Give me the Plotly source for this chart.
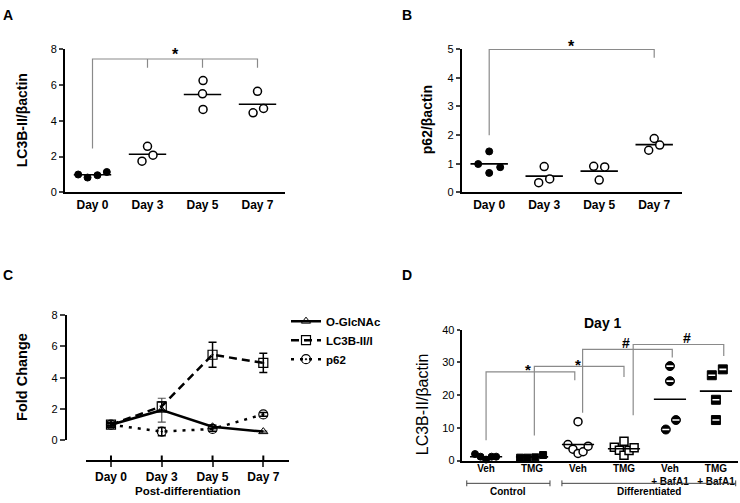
import plotly.graph_objects as go
import numpy as np

FONT = "Liberation Sans, Arial, Helvetica, sans-serif"
W, H = 740, 503

# ---------------- data ----------------
days = ["Day 0", "Day 3", "Day 5", "Day 7"]

# Panel A : LC3B-II/beta-actin per day (individual replicates)
a_day0 = [1.00, 0.83, 0.96, 1.14]
a_day3 = [1.74, 2.57, 2.08]
a_day5 = [6.24, 5.50, 4.63]
a_day7 = [5.64, 4.44, 4.68]
a_jitter = [[-0.26, -0.09, 0.09, 0.26], [-0.10, 0.0, 0.10], [0.01, 0.0, 0.01], [0.0, -0.08, 0.11]]

# Panel B : p62/beta-actin per day
b_day0 = [0.99, 1.43, 0.88, 0.68]
b_day3 = [0.34, 0.90, 0.47]
b_day5 = [0.91, 0.89, 0.43]
b_day7 = [1.47, 1.88, 1.65]
b_jitter = [[-0.20, 0.0, 0.20, 0.0], [-0.10, 0.0, 0.10], [-0.10, 0.10, 0.0], [-0.10, 0.0, 0.10]]

# Panel C : fold change (mean and error)
c_oglc = [1.00, 1.93, 0.87, 0.56]
c_oglc_err = [0.05, 0.76, 0.12, 0.04]
c_lc3 = [1.00, 2.18, 5.47, 4.95]
c_lc3_err = [0.06, 0.27, 0.80, 0.62]
c_p62 = [1.00, 0.56, 0.73, 1.66]
c_p62_err = [0.16, 0.26, 0.15, 0.12]

# Panel D : Day 1 LC3B-II/beta-actin
d_labels = ["Veh", "TMG", "Veh", "TMG", "Veh<br>+ BafA1", "TMG<br>+ BafA1"]
d_groups = ["Control", "Differentiated"]
d_ctrl_veh = [2.0, 1.2, 0.3, 1.2, 1.2]
d_ctrl_tmg = [0.9, 0.9, 1.0, 1.7]
d_diff_veh = [4.9, 3.5, 2.2, 2.7, 4.4, 11.9]
d_diff_tmg = [4.1, 3.2, 5.9, 1.6, 3.1, 3.9]
d_veh_baf = [28.9, 24.3, 9.5, 12.4]
d_tmg_baf = [26.1, 27.9, 18.6, 12.4]
d_jitter = [[-0.24, -0.12, 0.0, 0.12, 0.22], [-0.26, -0.10, 0.07, 0.24],
            [-0.22, -0.11, 0.0, 0.11, 0.22, 0.0], [-0.21, -0.10, 0.0, 0.0, 0.11, 0.22],
            [0.0, 0.0, -0.09, 0.13], [-0.09, 0.15, 0.0, 0.0]]


def px(p):
    return p / W


def py(p):
    return 1 - p / H


BLACK = "black"
GRAY = "#8a8a8a"
fig = go.Figure()


def add_dots(xa, ya, vals, jit, idx, symbol, fill, size=8, lw=1.5):
    fig.add_trace(go.Scatter(
        x=[idx + j for j in jit], y=vals, mode="markers", xaxis=xa, yaxis=ya,
        marker=dict(symbol=symbol, size=size, color=fill, line=dict(color=BLACK, width=lw)),
        showlegend=False, hoverinfo="skip", cliponaxis=False))


def add_mean(xa, ya, vals, idx, half=0.34, lw=1.6):
    m = float(np.mean(vals))
    fig.add_trace(go.Scatter(
        x=[idx - half, idx + half], y=[m, m], mode="lines", xaxis=xa, yaxis=ya,
        line=dict(color=BLACK, width=lw), showlegend=False, hoverinfo="skip"))


# ---------- Panel A ----------
for i, vals in enumerate([a_day0, a_day3, a_day5, a_day7]):
    add_mean("x", "y", vals, i)
    if i == 0:
        add_dots("x", "y", vals, a_jitter[i], i, "circle", BLACK, size=7, lw=1)
    else:
        add_dots("x", "y", vals, a_jitter[i], i, "circle", "white", size=8, lw=1.5)

# ---------- Panel B ----------
for i, vals in enumerate([b_day0, b_day3, b_day5, b_day7]):
    add_mean("x2", "y2", vals, i)
    if i == 0:
        add_dots("x2", "y2", vals, b_jitter[i], i, "circle", BLACK, size=7, lw=1)
    else:
        add_dots("x2", "y2", vals, b_jitter[i], i, "circle", "white", size=8, lw=1.5)

# ---------- Panel C ----------
xi = list(range(len(days)))
fig.add_trace(go.Scatter(
    x=xi, y=c_oglc, name="O-GlcNAc", mode="lines+markers", xaxis="x3", yaxis="y3",
    line=dict(color=BLACK, width=2.5),
    marker=dict(symbol="triangle-up-open", size=8, color=BLACK, line=dict(width=1)),
    error_y=dict(type="data", array=c_oglc_err, color="#555555", thickness=1.2, width=4),
    cliponaxis=False))
fig.add_trace(go.Scatter(
    x=xi, y=c_lc3, name="LC3B-II/I", mode="lines+markers", xaxis="x3", yaxis="y3",
    line=dict(color=BLACK, width=2.5, dash="8px,5px"),
    marker=dict(symbol="square-open-dot", size=9, color=BLACK, line=dict(width=1.2)),
    error_y=dict(type="data", array=c_lc3_err, color=BLACK, thickness=1.5, width=4),
    cliponaxis=False))
fig.add_trace(go.Scatter(
    x=xi, y=c_p62, name="p62", mode="lines+markers", xaxis="x3", yaxis="y3",
    line=dict(color=BLACK, width=2.5, dash="3px,6px"),
    marker=dict(symbol="circle-open-dot", size=9, color=BLACK, line=dict(width=1.2)),
    error_y=dict(type="data", array=c_p62_err, color=BLACK, thickness=1.5, width=4),
    cliponaxis=False))

# ---------- Panel D ----------
d_all = [d_ctrl_veh, d_ctrl_tmg, d_diff_veh, d_diff_tmg, d_veh_baf, d_tmg_baf]
d_style = [("circle", BLACK, 7, 1), ("square", BLACK, 7, 1), ("circle", "white", 8, 1.5),
           ("square", "white", 8, 1.5), ("circle", BLACK, 9, 1), ("square", BLACK, 9, 1)]
for i, vals in enumerate(d_all):
    sym, fill, sz, lw = d_style[i]
    add_dots("x4", "y4", vals, d_jitter[i], i, sym, fill, size=sz, lw=lw)
    if i >= 4:
        # white band of the half-filled symbols
        fig.add_trace(go.Scatter(
            x=[i + j for j in d_jitter[i]], y=vals, mode="markers", xaxis="x4", yaxis="y4",
            marker=dict(symbol="line-ew", size=5, line=dict(color="white", width=1.6)),
            showlegend=False, hoverinfo="skip"))
    add_mean("x4", "y4", vals, i, half=0.35, lw=1.6)

# ---------------- axes ----------------
tickfont = dict(family=FONT, size=11, color=BLACK)
catfont = dict(family=FONT, size=12, color=BLACK, weight="bold")
common = dict(showgrid=False, zeroline=False, showline=True, linecolor=BLACK, linewidth=2)

fig.update_layout(
    xaxis=dict(domain=[px(65), px(285)], range=[-0.5, 3.5], tickvals=xi, ticktext=days,
               ticks="", tickfont=catfont, anchor="y", **common),
    yaxis=dict(domain=[py(191), py(44)], range=[0, 8], tickvals=[0, 2, 4, 6, 8], ticks="outside",
               ticklen=4, tickwidth=1.5, tickfont=tickfont, anchor="x", **common),
    xaxis2=dict(domain=[px(461.7), px(681.7)], range=[-0.5, 3.5], tickvals=xi, ticktext=days,
                ticks="", tickfont=catfont, anchor="y2", **common),
    yaxis2=dict(domain=[py(191), py(44)], range=[0, 5], tickvals=[0, 1, 2, 3, 4, 5], ticks="outside",
                ticklen=4, tickwidth=1.5, tickfont=tickfont, anchor="x2", **common),
    xaxis3=dict(domain=[px(85.6), px(288.7)], range=[-0.5, 3.5], tickvals=xi, ticktext=days,
                ticks="outside", ticklen=5, tickwidth=2, tickfont=catfont,
                anchor="free", position=py(465.7), **common),
    yaxis3=dict(domain=[py(445), py(316.7)], range=[0, 8], tickvals=[0, 2, 4, 6, 8], ticks="outside",
                ticklen=5, tickwidth=1.5, tickfont=tickfont, anchor="free", position=px(65.7), **common),
    xaxis4=dict(domain=[px(461.7), px(738)], range=[-0.53, 5.48], tickvals=list(range(6)),
                ticktext=d_labels, ticks="", ticklabelstandoff=-3,
                tickfont=dict(family=FONT, size=10, color=BLACK, weight="bold"),
                anchor="y4", **common),
    yaxis4=dict(domain=[py(465.7), py(331.7)], range=[0, 40], tickvals=[0, 10, 20, 30, 40], ticks="outside",
                ticklen=3, tickwidth=1.5, tickfont=tickfont, anchor="x4", **common),
)

shapes = []
gline = dict(color=GRAY, width=1.2)


def bracket(xr, yr, x0, y0, ytop, x1, y1, extra=()):
    d = f"M{x0},{y0} L{x0},{ytop} L{x1},{ytop} L{x1},{y1}"
    for ex in extra:
        d += f" M{ex},{ytop} L{ex},{y1}"
    shapes.append(dict(type="path", xref=xr, yref=yr, path=d, line=gline))


# A bracket
bracket("x", "y", 0, 2.45, 7.44, 3, 6.95, extra=(1, 2))
# B bracket
bracket("x2", "y2", 0, 1.99, 4.98, 3, 4.69)
# D brackets
bracket("x4", "y4", 0, 6.2, 27.1, 1.93, 24.6)
bracket("x4", "y4", 1.05, 7.7, 28.8, 3.0, 25.6)
bracket("x4", "y4", 2.1, 14.6, 34.0, 4.05, 31.5)
bracket("x4", "y4", 3.2, 13.9, 35.5, 5.17, 32.0)

# C : upward half of the crossing ticks
for i in xi:
    shapes.append(dict(type="line", xref="x3", yref="paper", x0=i, x1=i, y0=py(465.7), y1=py(460.5),
                       line=dict(color=BLACK, width=2)))

# D : group brackets under the axis
group_span = [(-0.42, 1.39), (1.65, 5.43)]
for x0, x1 in group_span:
    yb = py(489)
    shapes.append(dict(type="line", xref="x4", yref="paper", x0=x0, x1=x1, y0=yb, y1=yb,
                       line=dict(color="#444444", width=1)))
    for xx in (x0, x1):
        shapes.append(dict(type="line", xref="x4", yref="paper", x0=xx, x1=xx, y0=py(486), y1=py(492),
                           line=dict(color="#444444", width=1)))

ann = []


def text(x, y, s, size, bold=True, xref="paper", yref="paper", angle=0, xanchor="center", yanchor="middle"):
    ann.append(dict(x=x, y=y, xref=xref, yref=yref, text=s, showarrow=False, textangle=angle,
                    xanchor=xanchor, yanchor=yanchor,
                    font=dict(family=FONT, size=size, color=BLACK, weight="bold" if bold else "normal")))


# panel letters
text(px(8), py(9), "A", 14)
text(px(407), py(9), "B", 14)
text(px(8), py(276), "C", 14)
text(px(407), py(276), "D", 14)

# axis titles
text(px(22), py(117), "LC3B-II/βactin", 14, angle=-90)
text(px(427), py(117), "p62/βactin", 14, angle=-90)
text(px(22), py(380), "Fold Change", 14.5, angle=-90)
text(px(422), py(408), "LC3B-II/βactin", 16, bold=False, angle=-90)
text(px(187.5), py(497), "Post-differentiation", 11.5)
text(px(603), py(325), "Day 1", 14)

# significance marks
text(1.5, py(50), "*", 16, xref="x")
text(1.49, py(42), "*", 16, xref="x2")
text(0.92, py(372), "*", 15, xref="x4")
text(1.99, py(367), "*", 15, xref="x4")
text(3.04, py(345), "#", 14, xref="x4")
text(4.36, py(340), "#", 14, xref="x4")

# D group names
for (x0, x1), g in zip(group_span, d_groups):
    text((x0 + x1) / 2, py(497.5), g, 10, xref="x4")

fig.update_layout(
    width=W, height=H, margin=dict(l=0, r=0, t=0, b=0),
    paper_bgcolor="white", plot_bgcolor="white",
    font=dict(family=FONT, color=BLACK),
    shapes=shapes, annotations=ann,
    showlegend=True,
    legend=dict(x=px(286), y=py(308), xanchor="left", yanchor="top", bgcolor="rgba(0,0,0,0)",
                font=dict(family=FONT, size=11.5, color=BLACK, weight="bold"),
                itemwidth=30, tracegroupgap=0),
)

# remove the browser's default 8px page margin so the figure sits at the window origin
fig.write_html("out.html", config={"displayModeBar": False},
               post_script="document.body.style.margin='0px';document.body.style.overflow='hidden';")
